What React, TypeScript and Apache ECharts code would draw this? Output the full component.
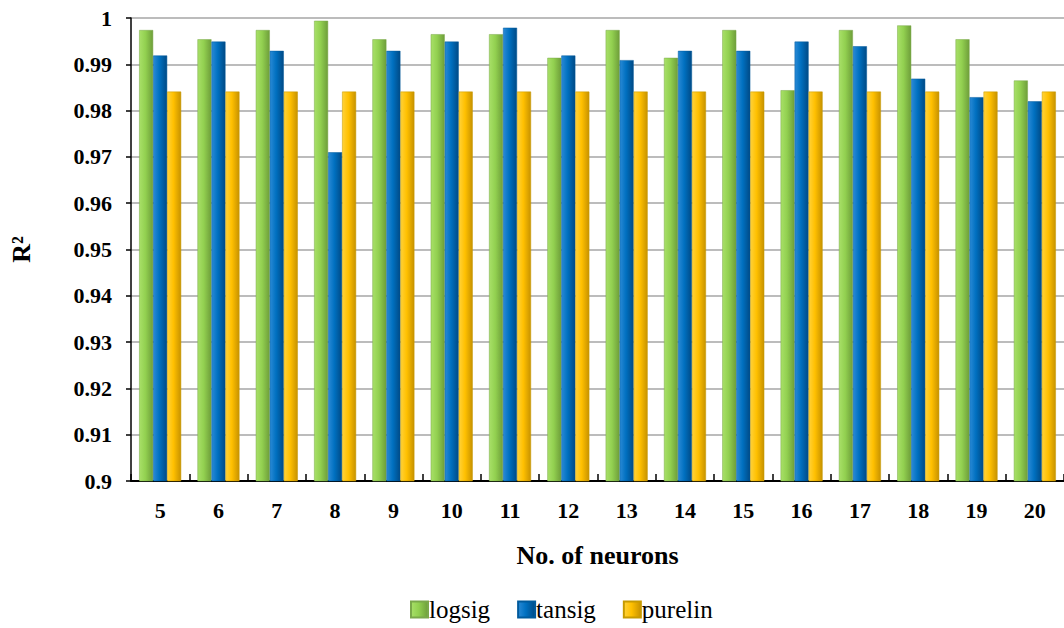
import React, { useEffect, useRef } from "react";
import * as echarts from "echarts";

const categories = ["5", "6", "7", "8", "9", "10", "11", "12", "13", "14", "15", "16", "17", "18", "19", "20"];
const logsig = [0.9974, 0.9954, 0.9974, 0.9994, 0.9954, 0.9965, 0.9965, 0.9914, 0.9974, 0.9914, 0.9974, 0.9844, 0.9974, 0.9984, 0.9954, 0.9865];
const tansig = [0.9919, 0.9949, 0.9929, 0.9710, 0.9929, 0.9949, 0.9979, 0.9919, 0.9909, 0.9929, 0.9929, 0.9949, 0.9939, 0.9869, 0.9829, 0.9820];
const purelin = [0.9841, 0.9841, 0.9841, 0.9841, 0.9841, 0.9841, 0.9841, 0.9841, 0.9841, 0.9841, 0.9841, 0.9841, 0.9841, 0.9841, 0.9841, 0.9841];
const seriesNames = ["logsig", "tansig", "purelin"];

const grad = (a: string, b: string, c: string) =>
  new echarts.graphic.LinearGradient(0, 0, 1, 0, [
    { offset: 0, color: a },
    { offset: 0.45, color: b },
    { offset: 1, color: c },
  ]);

export default function App() {
  const ref = useRef<HTMLDivElement>(null);
  useEffect(() => {
    if (!ref.current) return;
    const chart = echarts.init(ref.current, null, { renderer: "svg" });
    const font = "Liberation Serif";
    const mk = (name: string, data: number[], fill: any, border: string) => ({
      name,
      type: "bar",
      data,
      barWidth: 14,
      barGap: "0%",
      itemStyle: { color: fill, borderColor: border, borderWidth: 0.5 },
    });
    chart.setOption({
      animation: false,
      textStyle: { fontFamily: font },
      grid: { left: 129, right: 0, top: 18, bottom: 147 },
      legend: {
        top: 592,
        left: 405,
        itemWidth: 17,
        itemHeight: 16,
        itemGap: 27,
        icon: "rect",
        textStyle: { fontFamily: font, fontSize: 25, color: "#000", padding: [0, 0, 0, -4] },
        data: seriesNames,
      },
      xAxis: {
        type: "category",
        data: categories,
        name: "No. of neurons",
        nameLocation: "middle",
        nameGap: 61,
        nameTextStyle: { fontFamily: font, fontSize: 26, fontWeight: "bold", color: "#000" },
        axisLine: { lineStyle: { color: "#000", width: 2 } },
        axisTick: { show: true, inside: true, length: 7, lineStyle: { color: "#000", width: 1.5 } },
        axisLabel: { fontFamily: font, fontSize: 22, fontWeight: "bold", color: "#000", margin: 18 },
      },
      yAxis: {
        type: "value",
        min: 0.9,
        max: 1,
        interval: 0.01,
        name: "R²",
        nameLocation: "middle",
        nameRotate: 90,
        nameGap: 97,
        nameTextStyle: { fontFamily: font, fontSize: 26, fontWeight: "bold", color: "#000" },
        axisLine: { show: true, lineStyle: { color: "#000", width: 1.5 } },
        axisTick: { show: true, length: 5, lineStyle: { color: "#000", width: 1.5 } },
        axisLabel: { fontFamily: font, fontSize: 22, fontWeight: "bold", color: "#000", margin: 19 },
        splitLine: { lineStyle: { color: "#a6a6a6", width: 1.5 } },
      },
      series: [
        mk(seriesNames[0], logsig, grad("#a8e068", "#92d050", "#6e9e3a"), "#7aa84a"),
        mk(seriesNames[1], tansig, grad("#2a8ad6", "#0070c0", "#004a86"), "#005a9c"),
        mk(seriesNames[2], purelin, grad("#ffd23a", "#ffc000", "#c79200"), "#c79a00"),
      ],
    });
    return () => chart.dispose();
  }, []);
  return <div ref={ref} style={{ width: 1064, height: 628, position: "absolute", left: 0, top: 0 }} />;
}
